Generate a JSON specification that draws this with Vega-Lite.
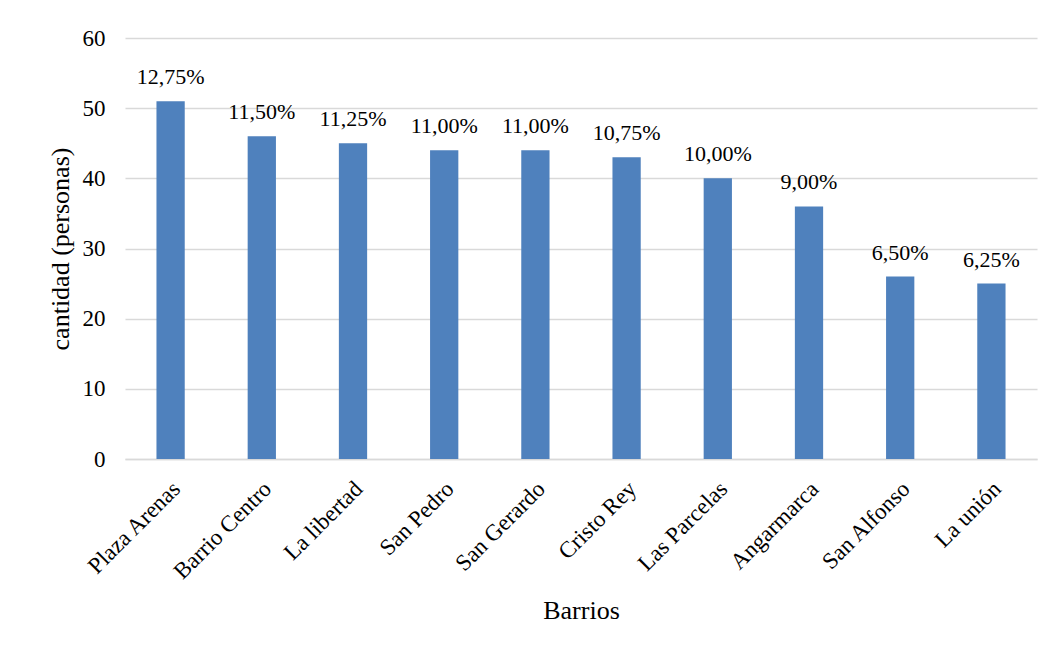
{
  "$schema": "https://vega.github.io/schema/vega-lite/v6.json",
  "width": 912,
  "height": 421,
  "autosize": "none",
  "padding": {"left": 125, "top": 38, "right": 23, "bottom": 191},
  "background": "white",
  "data": {
    "values": [
      {"barrio": "Plaza Arenas", "cantidad": 51, "pct": "12,75%"},
      {"barrio": "Barrio Centro", "cantidad": 46, "pct": "11,50%"},
      {"barrio": "La libertad", "cantidad": 45, "pct": "11,25%"},
      {"barrio": "San Pedro", "cantidad": 44, "pct": "11,00%"},
      {"barrio": "San Gerardo", "cantidad": 44, "pct": "11,00%"},
      {"barrio": "Cristo Rey", "cantidad": 43, "pct": "10,75%"},
      {"barrio": "Las Parcelas", "cantidad": 40, "pct": "10,00%"},
      {"barrio": "Angarmarca", "cantidad": 36, "pct": "9,00%"},
      {"barrio": "San Alfonso", "cantidad": 26, "pct": "6,50%"},
      {"barrio": "La unión", "cantidad": 25, "pct": "6,25%"}
    ]
  },
  "encoding": {
    "x": {
      "field": "barrio",
      "type": "nominal",
      "sort": null,
      "title": "Barrios",
      "scale": {"paddingInner": 0.69, "paddingOuter": 0.345},
      "axis": {
        "labelAngle": -45,
        "labelAlign": "right",
        "labelBaseline": "middle",
        "labelPadding": 26,
        "labelOffset": 6,
        "labelFont": "Liberation Serif",
        "labelFontSize": 23,
        "labelColor": "#000000",
        "labelOverlap": false,
        "titleFont": "Liberation Serif",
        "titleFontSize": 26,
        "titleFontWeight": "normal",
        "titleColor": "#000000",
        "ticks": false,
        "domainColor": "#d9d9d9",
        "domainWidth": 1.5,
        "titleY": 151,
        "titleBaseline": "middle"
      }
    },
    "y": {
      "field": "cantidad",
      "type": "quantitative",
      "title": "cantidad  (personas)",
      "scale": {"domain": [0, 60]},
      "axis": {
        "values": [0, 10, 20, 30, 40, 50, 60],
        "domain": false,
        "ticks": false,
        "labelPadding": 20,
        "labelFont": "Liberation Serif",
        "labelFontSize": 23,
        "labelColor": "#000000",
        "titleFont": "Liberation Serif",
        "titleFontSize": 26,
        "titleFontWeight": "normal",
        "titleColor": "#000000",
        "titlePadding": 9,
        "gridColor": "#d9d9d9",
        "gridWidth": 1.5
      }
    }
  },
  "layer": [
    {"mark": {"type": "bar", "color": "#4f81bd"}},
    {
      "mark": {"type": "text", "baseline": "bottom", "dy": -12, "font": "Liberation Serif", "fontSize": 22, "color": "#000000"},
      "encoding": {"text": {"field": "pct"}}
    }
  ],
  "config": {
    "view": {"stroke": null}
  }
}
